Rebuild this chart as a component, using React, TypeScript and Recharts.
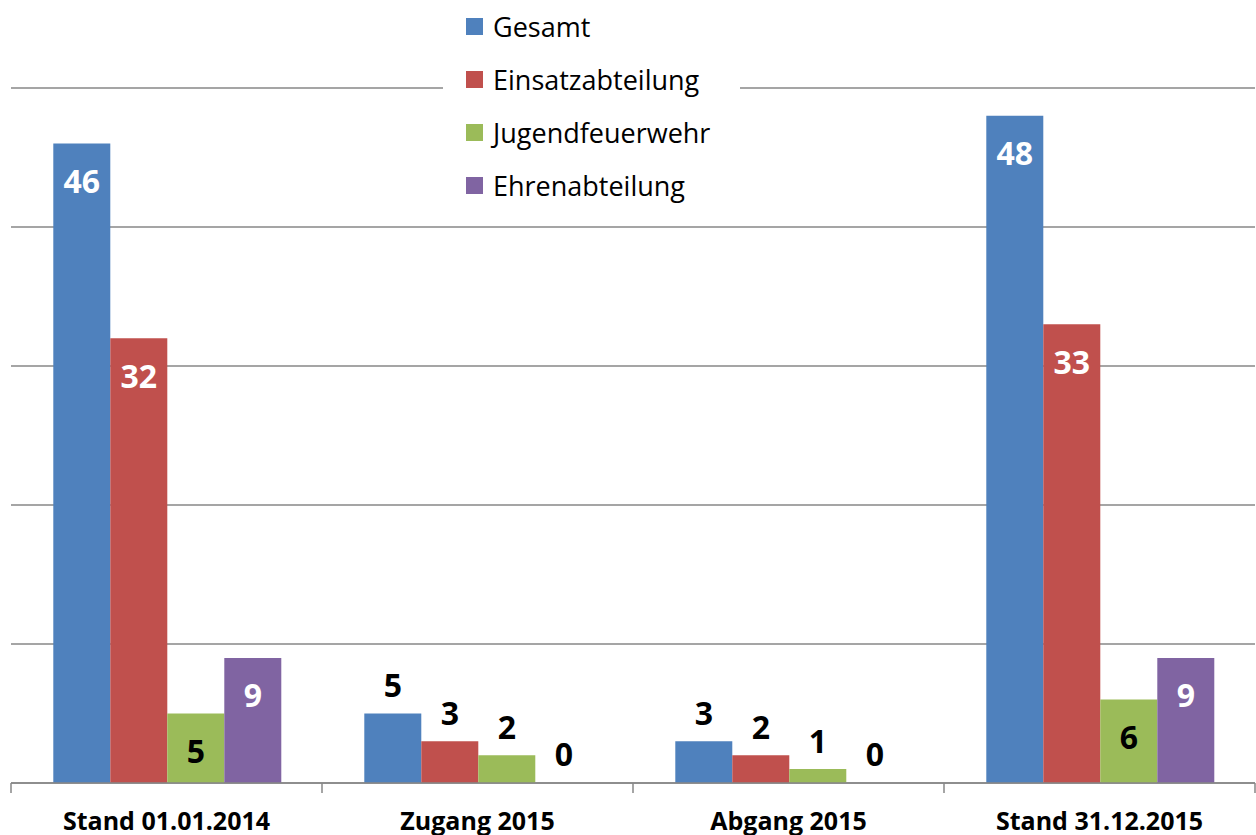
import React from "react";
import { BarChart, Bar, XAxis, YAxis, CartesianGrid, Legend, LabelList } from "recharts";

// Kategorien und Werte aus der Vorlage
const categories = ["Stand 01.01.2014", "Zugang 2015", "Abgang 2015", "Stand 31.12.2015"];
const gesamt = [46, 5, 3, 48];
const einsatzabteilung = [32, 3, 2, 33];
const jugendfeuerwehr = [5, 2, 1, 6];
const ehrenabteilung = [9, 0, 0, 9];
const yTicks = [0, 10, 20, 30, 40, 50];

// Office-2007 Palette
const SERIES = [
  { key: "gesamt", name: "Gesamt", color: "#4F81BD", inner: "#ffffff" },
  { key: "einsatz", name: "Einsatzabteilung", color: "#C0504D", inner: "#ffffff" },
  { key: "jugend", name: "Jugendfeuerwehr", color: "#9BBB59", inner: "#000000" },
  { key: "ehren", name: "Ehrenabteilung", color: "#8064A2", inner: "#ffffff" },
];

const data = categories.map((name, i) => ({
  name,
  gesamt: gesamt[i],
  einsatz: einsatzabteilung[i],
  jugend: jugendfeuerwehr[i],
  ehren: ehrenabteilung[i],
}));

const FONT = "'Open Sans', sans-serif";
const GRID = "#878787";
const INSIDE_CATS = [0, 3]; // Stand-Kategorien: Beschriftung innen

// label value carries the category index so zero bars don't shift things
function makeLabel(innerColor: string) {
  return (props: any) => {
    const { x, y, width, value } = props;
    const [cat, v] = String(value).split(":");
    const inside = INSIDE_CATS.includes(Number(cat));
    return (
      <text
        x={x + width / 2}
        y={inside ? y + 37 : y - 29}
        textAnchor="middle"
        dominantBaseline="central"
        fill={inside ? innerColor : "#000"}
        fontFamily={FONT}
        fontWeight={700}
        fontSize={32}
      >
        {v}
      </text>
    );
  };
}

function CategoryTick(props: any) {
  const { x, y, payload, index, visibleTicksCount } = props;
  const half = payload.offset ?? 0;
  const last = index === (visibleTicksCount ?? categories.length) - 1;
  return (
    <g>
      <line x1={x - half} x2={x - half} y1={y} y2={y + 10} stroke={GRID} strokeWidth={1.5} />
      {last && <line x1={x + half} x2={x + half} y1={y} y2={y + 10} stroke={GRID} strokeWidth={1.5} />}
      <text
        x={x}
        y={y + 37}
        textAnchor="middle"
        dominantBaseline="central"
        fill="#000"
        fontFamily={FONT}
        fontWeight={700}
        fontSize={25}
      >
        {payload.value}
      </text>
    </g>
  );
}

function LegendBox() {
  return (
    <div style={{ background: "#fff", width: 297, height: 210, paddingTop: 0, boxSizing: "border-box" }}>
      {SERIES.map((s) => (
        <div key={s.key} style={{ height: 53, display: "flex", alignItems: "center" }}>
          <span style={{ width: 17, height: 17, background: s.color, marginLeft: 23, marginRight: 10 }} />
          <span style={{ fontFamily: FONT, fontSize: 27, color: "#000", lineHeight: 1 }}>{s.name}</span>
        </div>
      ))}
    </div>
  );
}

export default function App() {
  return (
    <div style={{ width: 1256, height: 835, background: "#fff" }}>
      <style>{"body{margin:0}"}</style>
      <BarChart
        width={1256}
        height={835}
        data={data}
        margin={{ top: 88, right: 1, left: 11, bottom: 0 }}
        barCategoryGap="13.6%"
        barGap={0}
      >
        <CartesianGrid vertical={false} stroke={GRID} strokeWidth={1.5} />
        <YAxis hide domain={[0, 50]} ticks={yTicks} />
        <XAxis
          dataKey="name"
          height={52}
          interval={0}
          tickSize={0}
          tickMargin={0}
          tickLine={false}
          axisLine={{ stroke: GRID, strokeWidth: 1.5 }}
          tick={<CategoryTick />}
        />
        <Legend
          layout="vertical"
          align="center"
          verticalAlign="middle"
          content={<LegendBox />}
          wrapperStyle={{ left: 443, top: 0, width: 297, height: 210 }}
        />
        {SERIES.map((s) => (
          <Bar
            key={s.key}
            dataKey={s.key}
            name={s.name}
            fill={s.color}
            minPointSize={(v: number) => (v === 0 ? 0.01 : 0)}
            isAnimationActive={false}
          >
            <LabelList
              dataKey={(d: any) => `${categories.indexOf(d.name)}:${d[s.key]}`}
              content={makeLabel(s.inner)}
            />
          </Bar>
        ))}
      </BarChart>
    </div>
  );
}
